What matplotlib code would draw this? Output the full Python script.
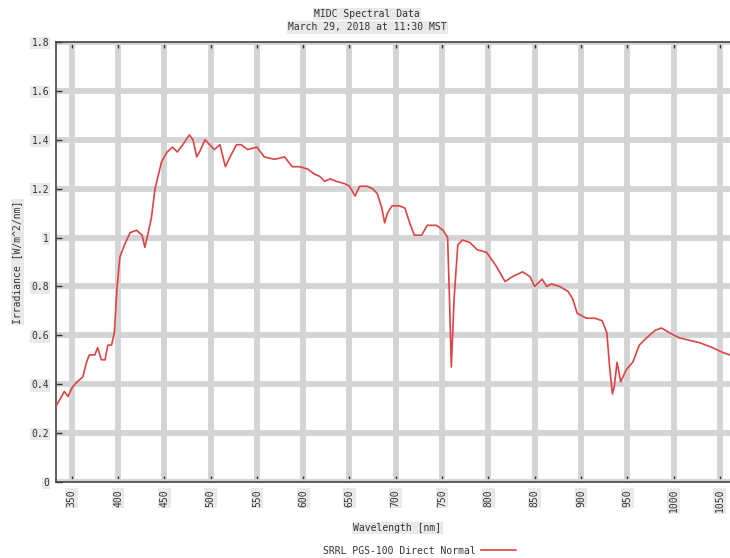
import matplotlib
matplotlib.use("Agg")
import matplotlib.pyplot as plt

# Spectrum
wavelength = [333, 342, 346, 351, 356, 362, 366, 369, 375, 378, 382, 386, 389,
              393, 396, 399, 402, 407, 413, 420, 426, 429, 432, 436, 440, 447,
              453, 459, 464, 470, 477, 481, 485, 488, 494, 499, 504, 510, 516,
              521, 528, 533, 540, 550, 558, 569, 580, 588, 596, 605, 612, 618,
              623, 629, 636, 645, 650, 656, 661, 669, 675, 680, 685, 688, 691,
              696, 704, 710, 715, 720, 728, 734, 744, 751, 756, 758, 760, 763,
              767, 772, 780, 788, 798, 809, 818, 826, 837, 845, 850, 858, 863,
              868, 877, 886, 891, 896, 906, 915, 923, 928, 931, 934, 936, 939,
              943, 949, 956, 963, 971, 980, 987, 996, 1006, 1017, 1028, 1042,
              1053, 1061]
irradiance = [0.31, 0.37, 0.35, 0.39, 0.41, 0.43, 0.49, 0.52, 0.52, 0.55, 0.50,
              0.50, 0.56, 0.56, 0.61, 0.80, 0.92, 0.97, 1.02, 1.03, 1.01, 0.96,
              1.01, 1.08, 1.20, 1.31, 1.35, 1.37, 1.35, 1.38, 1.42, 1.40, 1.33,
              1.35, 1.40, 1.38, 1.36, 1.38, 1.29, 1.33, 1.38, 1.38, 1.36, 1.37,
              1.33, 1.32, 1.33, 1.29, 1.29, 1.28, 1.26, 1.25, 1.23, 1.24, 1.23,
              1.22, 1.21, 1.17, 1.21, 1.21, 1.20, 1.18, 1.12, 1.06, 1.10, 1.13,
              1.13, 1.12, 1.06, 1.01, 1.01, 1.05, 1.05, 1.03, 1.00, 0.75, 0.47,
              0.75, 0.97, 0.99, 0.98, 0.95, 0.94, 0.88, 0.82, 0.84, 0.86, 0.84,
              0.80, 0.83, 0.80, 0.81, 0.80, 0.78, 0.75, 0.69, 0.67, 0.67, 0.66,
              0.61, 0.47, 0.36, 0.39, 0.49, 0.41, 0.46, 0.49, 0.56, 0.59, 0.62,
              0.63, 0.61, 0.59, 0.58, 0.57, 0.55, 0.53, 0.52]

x_ticks = list(range(350, 1051, 50))
y_ticks = [0, 0.2, 0.4, 0.6, 0.8, 1.0, 1.2, 1.4, 1.6, 1.8]
y_labels = ["0", "0.2", "0.4", "0.6", "0.8", "1", "1.2", "1.4", "1.6", "1.8"]

plt.rcParams["font.family"] = ["DejaVu Sans Mono"]
fs = 7
box = dict(facecolor="#e9e9e9", edgecolor="none", pad=1.0)

fig = plt.figure(figsize=(7.3, 5.58), dpi=100)
ax = fig.add_axes([0.0767, 0.1362, 0.9233, 0.7885])

ax.plot(wavelength, irradiance, color="#dd4444", linewidth=1.2,
        label="SRRL PGS-100 Direct Normal", zorder=3)

ax.set_xlim(333, 1061)
ax.set_ylim(0, 1.8)
ax.set_xticks(x_ticks)
ax.set_xticklabels([str(t) for t in x_ticks], rotation=90, fontsize=fs,
                   color="#333333")
ax.set_yticks(y_ticks)
ax.set_yticklabels(y_labels, fontsize=fs, color="#333333")
for lab in ax.get_xticklabels() + ax.get_yticklabels():
    lab.set_bbox(box)

ax.tick_params(direction="in", length=4, width=1, color="#333333",
               top=True, bottom=True, left=True, right=False, pad=5)
# thick speckled-looking grid: light band plus a dotted overlay
ax.grid(True, color="#d4d4d4", linewidth=4.2, zorder=0)
for t in x_ticks:
    ax.axvline(t, color="#bdbdbd", linewidth=3.0, linestyle=(0, (0.4, 0.6)),
               zorder=0.5)
for t in y_ticks[1:-1]:
    ax.axhline(t, color="#bdbdbd", linewidth=3.0, linestyle=(0, (0.4, 0.6)),
               zorder=0.5)
ax.set_axisbelow(True)

for side in ["left", "top", "bottom"]:
    ax.spines[side].set_color("#444444")
    ax.spines[side].set_linewidth(1.2)
ax.spines["right"].set_visible(False)

fig.text(0.503, 0.975, "MIDC Spectral Data", ha="center", va="center",
         fontsize=fs, bbox=box, color="#333333")
fig.text(0.503, 0.951, "March 29, 2018 at 11:30 MST", ha="center", va="center",
         fontsize=fs, bbox=box, color="#333333")
fig.text(0.544, 0.054, "Wavelength [nm]", ha="center", va="center",
         fontsize=fs, bbox=box, color="#333333")
fig.text(0.024, 0.53, "Irradiance [W/m^2/nm]", ha="center", va="center",
         rotation=90, fontsize=fs, bbox=box, color="#333333")

leg = ax.legend(loc="center", bbox_to_anchor=(0.575, 0.013),
                bbox_transform=fig.transFigure, frameon=False,
                markerfirst=False, handlelength=3.6, fontsize=fs,
                borderaxespad=0, handletextpad=0.5)
for txt in leg.get_texts():
    txt.set_color("#333333")

fig.savefig("out.png", dpi=100)
